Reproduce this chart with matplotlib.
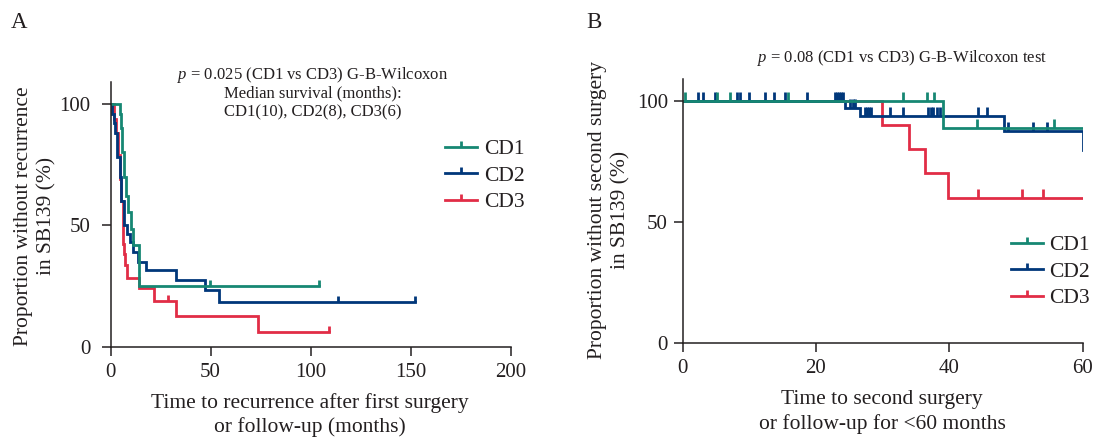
import numpy as np
import matplotlib
matplotlib.use("Agg")
import matplotlib.pyplot as plt
from matplotlib.path import Path
from matplotlib.lines import Line2D

plt.rcParams["font.family"] = ["Liberation Serif", "DejaVu Serif"]
plt.rcParams["mathtext.fontset"] = "custom"
plt.rcParams["mathtext.rm"] = "Liberation Serif"
plt.rcParams["mathtext.it"] = "Liberation Serif:italic"

# ---------------------------------------------------------------------
# Panel A: time to recurrence (months) vs % without recurrence
# ---------------------------------------------------------------------
a_cd1_t = [0, 4.75, 5.2, 5.6, 6.75, 7.75, 8.9, 10.1, 11.4, 14.4]
a_cd1_s = [100, 96, 90, 80, 70, 62, 55.5, 48.6, 41.7, 25]
a_cd1_cens = [49.5, 104]
a_cd1_end = 104

a_cd2_t = [0, 0.8, 1.5, 2.2, 3.2, 4.5, 5.3, 6.5, 8.2, 9.5, 11.0, 13.9, 17.6, 32.8, 47.0, 54.0]
a_cd2_s = [100, 96, 92, 88, 78, 70, 60, 50, 46.5, 43, 39, 35, 31.4, 27.3, 23.4, 18.5]
a_cd2_cens = [113.5, 152]
a_cd2_end = 152

a_cd3_t = [0, 1.5, 2.5, 3.5, 4.5, 5.2, 6.0, 6.8, 7.3, 8.2, 14.4, 21.9, 32.6, 73.5]
a_cd3_s = [100, 94, 88, 79, 69, 60, 42.5, 38, 33.5, 28.5, 24, 19, 12.5, 6.25]
a_cd3_cens = [28.8, 109]
a_cd3_end = 109

# ---------------------------------------------------------------------
# Panel B: time to second surgery (months) vs % without second surgery
# ---------------------------------------------------------------------
b_cd1_t = [0, 39.1]
b_cd1_s = [100, 88.6]
b_cd1_cens = [0.3, 5.1, 7.1, 15.8, 33.1, 36.6, 37.7, 44.1, 55.7]
b_cd1_end = 60

b_cd2_t = [0, 24.35, 26.6, 48.2, 60]
b_cd2_s = [100, 96.9, 93.8, 87.6, 79.5]
b_cd2_cens = [2.3, 3.0, 4.85, 8.1, 8.6, 9.95, 12.35, 13.75, 15.35, 18.6,
              22.9, 23.2, 23.5, 23.8, 24.1, 25.1, 25.5, 25.9, 27.3, 27.7,
              28.0, 28.3, 31.1, 33.1, 36.8, 37.2, 37.6, 38.1, 38.6, 44.3,
              45.6, 48.8, 52.6, 54.6]
b_cd2_end = 60

b_cd3_t = [0, 29.9, 33.95, 36.35, 39.85]
b_cd3_s = [100, 90, 80, 70, 60]
b_cd3_cens = [44.3, 50.9, 54.1]
b_cd3_end = 60

labels = ["CD1", "CD2", "CD3"]
colors = {"CD1": "#168773", "CD2": "#00377a", "CD3": "#e12d46"}

TXT = "#231f20"
FS_LAB = 15.5
FS_TICK = 15
FS_NOTE = 12
# censor mark: short vertical stroke pointing up from the curve
UP = Path([(0, 0), (0, 1)], [Path.MOVETO, Path.LINETO])


def surv_at(times, surv, x):
    idx = np.searchsorted(times, x, side="right") - 1
    return np.asarray(surv)[idx]


def km_curve(ax, times, surv, cens, end, color, ms):
    xs = list(times) + [end]
    ys = list(surv) + [surv[-1]]
    ax.step(xs, ys, where="post", color=color, lw=2.0, solid_joinstyle="miter")
    cy = [surv_at(times, surv, c) for c in cens]
    ax.plot(cens, cy, ls="none", marker=UP, ms=ms, mew=2.0, mec=color)


def style_axes(ax, xmax, xticks, ypad):
    ax.set_xlim(0, xmax)
    ax.set_ylim(0, 109)
    ax.set_xticks(xticks)
    ax.set_yticks([0, 50, 100])
    for s in ["top", "right"]:
        ax.spines[s].set_visible(False)
    for s in ["left", "bottom"]:
        ax.spines[s].set_color(TXT)
        ax.spines[s].set_linewidth(1.1)
    ax.tick_params(direction="out", length=6.5, width=1.1, color=TXT,
                   labelsize=FS_TICK, labelcolor=TXT)
    ax.tick_params(axis="x", pad=5)
    ax.tick_params(axis="y", pad=ypad)
    ax.patch.set_alpha(0)


def legend_for(fig, x_px, y_px):
    handles = [Line2D([], [], color=colors[k], lw=2.0, marker=UP, ms=8.5,
                      mew=2.0, mec=colors[k]) for k in labels]
    fig.legend(handles, labels, loc="upper left",
               bbox_to_anchor=(x_px / W, 1 - y_px / H),
               bbox_transform=fig.transFigure, frameon=False,
               fontsize=FS_LAB, handlelength=1.5, handletextpad=0.3,
               labelspacing=0.3, borderpad=0, borderaxespad=0,
               labelcolor=TXT)


W, H = 1095, 437
fig = plt.figure(figsize=(W / 100, H / 100), dpi=100)

axA = fig.add_axes([110.5 / W, 1 - 346.7 / H, 400 / W, 264.6 / H])
axB = fig.add_axes([682.5 / W, 1 - 343.3 / H, 400 / W, 264.6 / H])

# Panel A
km_curve(axA, a_cd3_t, a_cd3_s, a_cd3_cens, a_cd3_end, colors["CD3"], 8)
km_curve(axA, a_cd2_t, a_cd2_s, a_cd2_cens, a_cd2_end, colors["CD2"], 8)
km_curve(axA, a_cd1_t, a_cd1_s, a_cd1_cens, a_cd1_end, colors["CD1"], 8)
style_axes(axA, 200, [0, 50, 100, 150, 200], 8)

# Panel B
km_curve(axB, b_cd3_t, b_cd3_s, b_cd3_cens, b_cd3_end, colors["CD3"], 13)
km_curve(axB, b_cd2_t, b_cd2_s, b_cd2_cens, b_cd2_end, colors["CD2"], 13)
km_curve(axB, b_cd1_t, b_cd1_s, b_cd1_cens, b_cd1_end, colors["CD1"], 13)
style_axes(axB, 60, [0, 20, 40, 60], 4)

# panel letters
fig.text(11 / W, 1 - 22 / H, "A", fontsize=16.5, color=TXT, va="center")
fig.text(586 / W, 1 - 22 / H, "B", fontsize=16.5, color=TXT, va="center")

# axis labels
fig.text(35 / W, 1 - 216 / H, "Proportion without recurrence\nin SB139 (%)",
         rotation=90, ha="center", va="center", multialignment="center",
         fontsize=FS_LAB, color=TXT, linespacing=1.3)
fig.text(609 / W, 1 - 210 / H, "Proportion without second surgery\nin SB139 (%)",
         rotation=90, ha="center", va="center", multialignment="center",
         fontsize=FS_LAB, color=TXT, linespacing=1.3)
fig.text(310 / W, 1 - 415 / H,
         "Time to recurrence after first surgery\nor follow-up (months)",
         ha="center", va="center", multialignment="center",
         fontsize=FS_LAB, color=TXT, linespacing=1.3)
fig.text(882 / W, 1 - 412 / H,
         "Time to second surgery\nor follow-up for <60 months",
         ha="center", va="center", multialignment="center",
         fontsize=FS_LAB, color=TXT, linespacing=1.3)

# statistics notes
fig.text(313 / W, 1 - 75 / H, r"$p$ = 0.025 (CD1 vs CD3) G-B-Wilcoxon",
         ha="center", va="center", fontsize=FS_NOTE, color=TXT)
fig.text(313 / W, 1 - 93.5 / H, "Median survival (months):",
         ha="center", va="center", fontsize=FS_NOTE, color=TXT)
fig.text(313 / W, 1 - 112 / H, "CD1(10), CD2(8), CD3(6)",
         ha="center", va="center", fontsize=FS_NOTE, color=TXT)
fig.text(902 / W, 1 - 58 / H, r"$p$ = 0.08 (CD1 vs CD3) G-B-Wilcoxon test",
         ha="center", va="center", fontsize=FS_NOTE, color=TXT)

legend_for(fig, 445, 139)
legend_for(fig, 1010.5, 235)

fig.savefig("out.png", dpi=100)
